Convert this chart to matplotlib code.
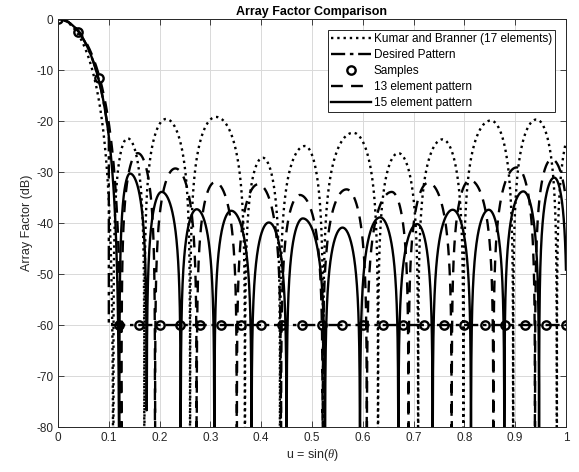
import numpy as np
import matplotlib
matplotlib.use("Agg")
from matplotlib import pyplot as plt

plt.rcParams['font.family'] = ['Liberation Sans', 'DejaVu Sans']
plt.rcParams['mathtext.fontset'] = 'custom'
plt.rcParams['mathtext.it'] = 'Liberation Serif:italic'
plt.rcParams['axes.unicode_minus'] = False

# values (u, dB)
# Kumar and Branner, 17 elements
kb_nulls = [0.109, 0.170, 0.260, 0.368, 0.437, 0.522, 0.630, 0.709, 0.798, 0.896, 0.982, 1.08]
kb_peak_u = [0.137, 0.2126, 0.311, 0.403, 0.486, 0.581, 0.670, 0.757, 0.852, 0.942, 1.03]
kb_peak_db = [-23.4, -19.6, -19.2, -27.2, -24.9, -22.3, -26.3, -23.6, -19.9, -19.7, -19.0]

# 13 element pattern
e13_nulls = [0.125, 0.191, 0.273, 0.352, 0.439, 0.521, 0.608, 0.690, 0.775, 0.857, 0.939, 1.01]
e13_peak_u = [0.157, 0.231, 0.309, 0.394, 0.476, 0.568, 0.657, 0.729, 0.811, 0.903, 0.972]
e13_peak_db = [-26.3, -29.3, -32.0, -32.4, -34.5, -33.4, -33.9, -32.1, -31.6, -29.1, -27.5]

# 15 element pattern
e15_nulls = [0.1207, 0.1746, 0.2415, 0.3077, 0.381, 0.450, 0.5256, 0.5945, 0.670, 0.7376,
             0.813, 0.8786, 0.947, 1.002]
e15_peak_u = [0.1417, 0.204, 0.273, 0.341, 0.415, 0.482, 0.560, 0.634, 0.707, 0.777,
              0.848, 0.916, 0.977]
e15_peak_db = [-30.3, -33.9, -37.3, -37.6, -39.9, -39.1, -40.9, -38.9, -40.2, -37.4,
               -37.4, -33.8, -31.1]

# desired pattern and its samples
desired_edge = 0.1
desired_null = 0.1207
desired_floor = -60
sample_u = np.round(np.arange(0, 1.0001, 0.04), 2)
sample_db = [0, -2.5, -11.6] + [-60] * 23


def MainLobe(u, null):
    c = np.cos(np.pi / 2 * np.clip(u / null, 0, 1))
    return 40 * np.log10(np.maximum(c, 1e-6))


def Pattern(u, nulls, peak_u, peak_db):
    af = np.full(u.shape, -200.0)
    m = u <= nulls[0]
    af[m] = MainLobe(u[m], nulls[0])
    for i in range(len(peak_u)):
        a, b, p, h = nulls[i], nulls[i + 1], peak_u[i], peak_db[i]
        left = (u > a) & (u <= p)
        right = (u > p) & (u <= b)
        af[left] = h + 20 * np.log10(np.maximum(np.sin(np.pi / 2 * (u[left] - a) / (p - a)), 1e-6))
        af[right] = h + 20 * np.log10(np.maximum(np.sin(np.pi / 2 * (b - u[right]) / (b - p)), 1e-6))
    return af


u = np.linspace(0, 1, 4001)

fig = plt.figure(figsize=(5.79, 4.72), dpi=100)
ax = fig.add_axes([0.1002, 0.0953, 0.8773, 0.8644])

ax.plot(u, Pattern(u, kb_nulls, kb_peak_u, kb_peak_db), 'k:', lw=1.7,
        label='Kumar and Branner (17 elements)')

ud = np.concatenate([u[u <= desired_edge], [desired_edge, 1.0]])
dd = np.concatenate([MainLobe(u[u <= desired_edge], desired_null), [desired_floor, desired_floor]])
ax.plot(ud, dd, 'k-.', lw=1.7, dashes=(6, 2, 1.5, 2), label='Desired Pattern')

ax.plot(sample_u, sample_db, 'ko', mfc='none', ms=6, mew=1.7, ls='none', label='Samples')

ax.plot(u, Pattern(u, e13_nulls, e13_peak_u, e13_peak_db), 'k--', lw=1.7,
        dashes=(5, 3.5), label='13 element pattern')
ax.plot(u, Pattern(u, e15_nulls, e15_peak_u, e15_peak_db), 'k-', lw=1.7,
        label='15 element pattern')

ax.set_xlim(0, 1)
ax.set_ylim(-80, 0)
ax.set_xticks(np.arange(0, 1.01, 0.1))
ax.set_xticklabels(['0', '0.1', '0.2', '0.3', '0.4', '0.5', '0.6', '0.7', '0.8', '0.9', '1'])
ax.set_yticks(np.arange(-80, 1, 10))
ax.grid(True, color='0.85', lw=0.7)
ax.set_axisbelow(True)
ax.tick_params(direction='in', top=True, right=True, labelsize=8.5, colors='0.15',
               length=4, width=0.6)
for s in ax.spines.values():
    s.set_color('0.15')
    s.set_linewidth(0.7)

ax.set_xlabel(r'u = sin($\it{\theta}$)', fontsize=9, color='0.15', labelpad=2)
ax.set_ylabel('Array Factor (dB)', fontsize=9, color='0.15', labelpad=2)
ax.set_title('Array Factor Comparison', fontsize=9, fontweight='bold', pad=3)

leg = ax.legend(loc='upper right', fontsize=8.5, fancybox=False, framealpha=1,
                edgecolor='0.15', handlelength=3.4, handletextpad=0.2,
                labelspacing=0.33, borderaxespad=0.9, borderpad=0.3)
leg.get_frame().set_linewidth(0.7)

fig.savefig('out.png', dpi=100)
